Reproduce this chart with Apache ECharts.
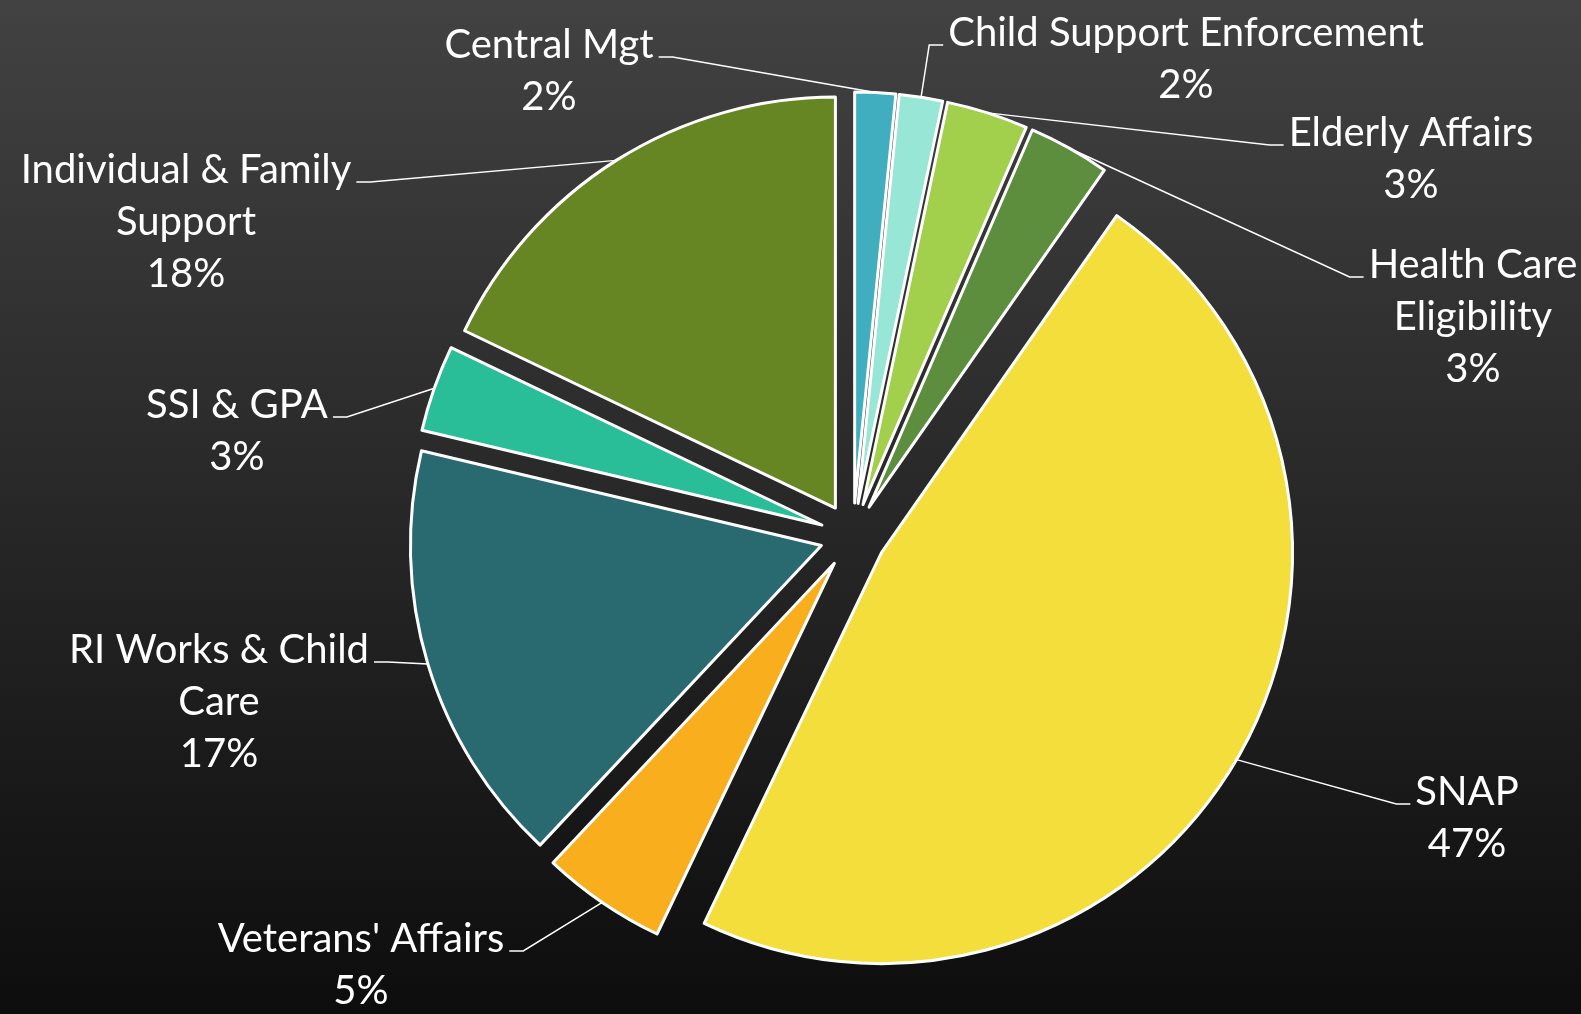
<!DOCTYPE html>
<html>
<head>
<meta charset="utf-8">
<title>Program share</title>
<script src="https://cdn.jsdelivr.net/npm/echarts@6/dist/echarts.min.js"></script>
<style>
html,body{margin:0;padding:0;width:100%;height:100%;overflow:hidden;background:#222;}
#pieChart{width:1581px;height:1014px;}
</style>
</head>
<body>
<div id="pieChart"></div>
<script>
//各项目名称
var nameArr = ['Central Mgt', 'Child Support Enforcement', 'Elderly Affairs', 'Health Care Eligibility', 'SNAP',
               "Veterans' Affairs", 'RI Works & Child Care', 'SSI & GPA', 'Individual & Family Support'];
//占比 (%)
var numArr = [1.6, 1.7, 3.2, 3.2, 47.4, 4.9, 16.7, 3.4, 17.9];
var cList = ['#41aebf', '#98e6d6', '#a2cf4c', '#5d8e3d', '#f3de3c', '#f9ae1e', '#296a71', '#2abe98', '#668624'];

//标签换行
var breakArr = {
	'Health Care Eligibility': 'Health Care\nEligibility',
	'RI Works & Child Care': 'RI Works & Child\nCare',
	'Individual & Family Support': 'Individual & Family\nSupport'
};
//标签中心位置
var spotArr = [[549, 71], [1186, 59], [1411, 159], [1473, 317], [1467, 818],
               [361, 965], [219, 702], [237, 431], [186, 222]];

var R = 411, OFFSET = 33, LH = 52;

var pieChart = echarts.init(document.getElementById('pieChart'));
var dataArr = [], labelData = [];
for (var i = 0; i < nameArr.length; i++) {
	dataArr.push({
		name: nameArr[i],
		value: numArr[i],
		selected: true,
		itemStyle: {color: cList[i]}
	});
	labelData.push({name: nameArr[i], value: numArr[i]});
}

var optionPie = {
	animation: false,
	backgroundColor: {
		type: 'linear', x: 0, y: 0, x2: 0, y2: 1,
		colorStops: [{offset: 0, color: '#424242'}, {offset: 1, color: '#0d0d0d'}]
	},
	series: [
		{
			type: 'pie',
			center: [853, 536],
			radius: R,
			startAngle: 90,
			clockwise: true,
			selectedMode: 'multiple',
			selectedOffset: OFFSET,
			data: dataArr,
			itemStyle: {
				borderColor: '#ffffff',
				borderWidth: 3
			},
			label: {show: false},
			labelLine: {show: false},
			emphasis: {disabled: true}
		},
		// 只负责标签, 半径 = 扇区外移后的外弧中点
		{
			type: 'pie',
			silent: true,
			center: [853, 536],
			radius: R + OFFSET,
			startAngle: 90,
			clockwise: true,
			avoidLabelOverlap: false,
			data: labelData,
			itemStyle: {color: 'rgba(0,0,0,0)', borderWidth: 0},
			label: {
				show: true,
				position: 'outside',
				color: '#ffffff',
				fontFamily: 'Lato',
				fontSize: 40,
				lineHeight: LH,
				formatter: function(params) {
					var nm = breakArr[params.name] || params.name;
					return nm + '\n' + Math.round(params.percent) + '%';
				}
			},
			labelLine: {
				show: true,
				length: 20,
				length2: 12,
				lineStyle: {color: '#ffffff', width: 1.5}
			},
			labelLayout: function(params) {
				var p = spotArr[params.dataIndex];
				var rows = (params.text || '').split('\n').length;
				var w = params.labelRect.width;
				var anchor = params.labelLinePoints[0];
				// 引线接在第一行文字下沿
				var ay = p[1] - (rows - 1) * LH / 2 + 12;
				var ax, bx;
				if (anchor[0] > p[0]) {
					ax = p[0] + w / 2 + 5; bx = ax + 14;
				} else {
					ax = p[0] - w / 2 - 5; bx = ax - 14;
				}
				return {
					x: p[0], y: p[1], align: 'center', verticalAlign: 'middle',
					labelLinePoints: [[anchor[0], anchor[1]], [bx, ay], [ax, ay]]
				};
			},
			emphasis: {disabled: true}
		}
	]
};

pieChart.setOption(optionPie);
</script>
</body>
</html>
